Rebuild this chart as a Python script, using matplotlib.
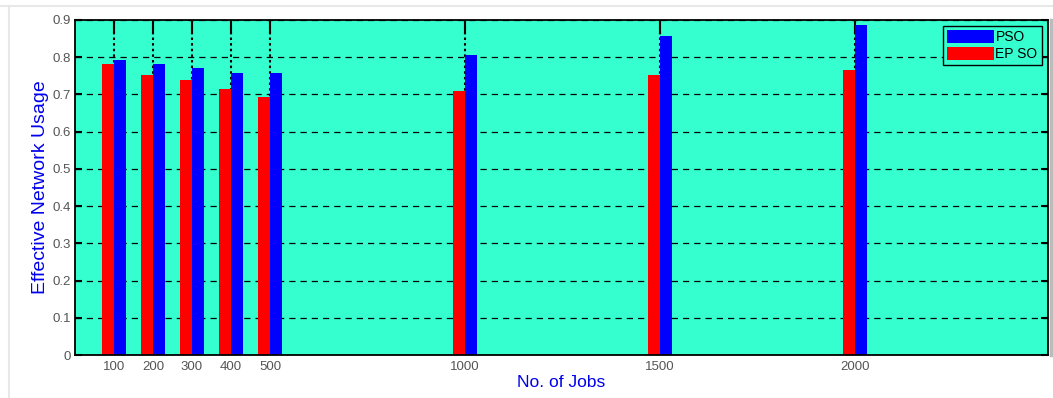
import numpy as np
import matplotlib.pyplot as plt
from matplotlib.lines import Line2D

plt.rcParams['font.family'] = ['Liberation Sans', 'DejaVu Sans']

jobs = [100, 200, 300, 400, 500, 1000, 1500, 2000]
pso = [0.793, 0.782, 0.771, 0.758, 0.758, 0.806, 0.857, 0.887]
epso = [0.782, 0.751, 0.738, 0.714, 0.693, 0.709, 0.751, 0.766]

bg = '#36FFCF'
txt = '#555555'

fig = plt.figure(figsize=(10.53, 3.98), dpi=100)
ax = fig.add_axes([75/1053, 43/398, 973/1053, 335/398])
ax.set_facecolor(bg)

x = np.array(jobs)
w = 31
ax.bar(x - w/2, epso, width=w, color='#FF0000', label='EP SO', zorder=2)
ax.bar(x + w/2, pso, width=w, color='#0000FF', label='PSO', zorder=2)

ax.set_xlim(0, 2495)
ax.set_ylim(0, 0.9)
ax.set_xticks(jobs)
ax.set_xticklabels([str(j) for j in jobs])
ax.set_yticks(np.arange(0, 0.91, 0.1))
ax.set_yticklabels(['0'] + ['%.1f' % v for v in np.arange(0.1, 0.91, 0.1)])

ax.set_axisbelow(True)
ax.xaxis.grid(True, linestyle=(0, (1.2, 1.5)), color='black', linewidth=1.5)
ax.yaxis.grid(True, linestyle=(0, (5, 4)), color='black', linewidth=0.9)
ax.tick_params(axis='both', direction='in', top=True, right=True, colors='black',
               labelcolor=txt, labelsize=9.5, width=1.5)
ax.tick_params(axis='x', length=10, pad=4)
ax.tick_params(axis='y', length=5, pad=3)
for s in ax.spines.values():
    s.set_linewidth(1.3)

ax.set_xlabel('No. of Jobs', color='#0000EE', fontsize=12.5, labelpad=2)
ax.set_ylabel('Effective Network Usage', color='#0000EE', fontsize=14)
ax.yaxis.set_label_coords(-0.027, 0.5)

h, l = ax.get_legend_handles_labels()
leg = ax.legend(h[::-1], l[::-1], loc='upper right', fontsize=10, frameon=True,
                fancybox=False, edgecolor='black', facecolor=bg, framealpha=1,
                handlelength=3.4, handleheight=1.0, borderpad=0.3,
                labelspacing=0.2, handletextpad=0.1, borderaxespad=0.45)
leg.get_frame().set_linewidth(1.0)

# light frame around the picture
fig.add_artist(Line2D([0, 1], [392/398, 392/398], color='#E8E8E8', lw=1.5))
fig.add_artist(Line2D([9/1053, 9/1053], [0, 392/398], color='#E8E8E8', lw=1.5))
fig.add_artist(Line2D([1050.5/1053, 1050.5/1053], [43/398, 378/398], color='#BBBBBB', lw=2.5))

fig.savefig('out.png', dpi=100, facecolor='white')
